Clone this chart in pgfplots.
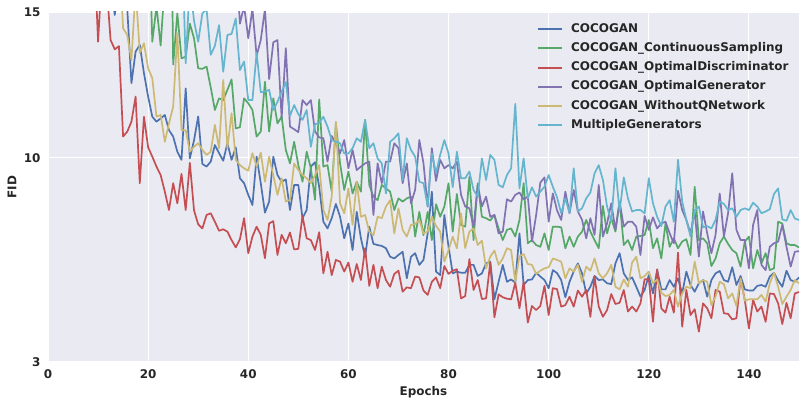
\documentclass[border=0pt]{standalone}
\usepackage{pgfplots}
\usepackage{pgfplotstable}
\pgfplotsset{compat=1.18}
\usepackage{fontspec}
\setmainfont{DejaVu Sans}
\definecolor{sbblue}{HTML}{4C72B0}
\definecolor{sbgreen}{HTML}{55A868}
\definecolor{sbred}{HTML}{C44E52}
\definecolor{sbpurple}{HTML}{8172B2}
\definecolor{sbyellow}{HTML}{CCB974}
\definecolor{sbcyan}{HTML}{64B5CD}
\definecolor{bg}{HTML}{EAEAF2}
\definecolor{txt}{HTML}{262626}

\pgfplotstableread{
k b g r p y c
0 30 30 30 30 30 30
1 30 30 30 30 30 30
2 30 30 30 30 30 30
3 30 30 30 30 30 30
4 30 30 30 30 30 30
5 30 30 30 30 30 30
6 30 30 30 30 30 30
7 30 30 30 30 30 30
8 30 30 30 30 30 30
9 30 30 30 30 30 30
10 30 30 30 30 30 30
11 30 30 17.4 30 30 30
12 30 30 13.98 30 30 30
13 30 30 16.5 30 30 30
14 17 30 16 30 30 30
15 16 30 14.04 30 30 30
16 14.9 30 13.72 30 30 30
17 16 30 13.83 30 17.2 30
18 16 30 10.73 30 14.44 30
19 15.1 30 10.90 30 14.21 30
20 12.56 30 11.24 30 13.35 30
21 13.64 30 12.10 30 15.8 30
22 13.87 30 9.13 30 13.60 30
23 12.90 30 11.41 30 13.93 30
24 12.10 19 10.36 30 13.07 30
25 11.41 13.98 10.04 30 12.73 30
26 11.24 15.2 9.70 30 11.41 30
27 11.35 13.85 9.41 30 11.47 30
28 11.47 16 8.84 30 10.55 30
29 10.95 25 8.21 30 11.18 30
30 10.73 13.2 9.13 30 11.75 30
31 10.21 14.95 8.44 30 14.27 20
32 9.93 13.41 9.45 30 10.95 18
33 12.38 13.47 8.21 30 10.95 13.24
34 9.98 14.6 9.83 30 10.21 16
35 10.6 14.1 8.2 30 10.38 14.7
36 11.42 13.07 7.72 30 10.50 13.98
37 9.79 13.05 7.58 30 10.27 14.95
38 9.70 13.13 8.04 30 10.10 15.1
39 9.87 12.42 8.10 30 10.21 13.53
40 10.44 11.64 7.81 30 11.13 13.84
41 10.16 12.04 7.50 30 10.33 14.55
42 9.90 11.98 7.55 30 12.67 12.95
43 10.50 12.33 7.47 30 10.33 14.21
44 9.93 12.69 7.18 20 11.53 14.25
45 10.36 11.01 6.93 17 9.93 14.78
46 9.30 11.05 7.21 14.6 9.75 13.01
47 9.13 12.04 7.93 15.2 9.64 13.3
48 8.73 11.87 6.73 14.1 9.56 11.98
49 8.38 11.64 7.30 15.1 10.16 11.98
50 10.04 10.73 7.64 13.5 9.70 13.6
51 9.13 10.90 7.36 14.04 10.18 12.25
52 8.12 12.61 6.56 15.1 9.18 12.27
53 8.50 10.90 7.75 12.7 10.04 12.33
54 10.04 12.04 7.83 13.96 9.41 11.64
55 9.41 11.18 6.67 14.04 8.73 11.92
56 9.18 11.41 7.36 11.36 9.30 12.27
57 9.26 10.27 7.07 13.76 8.50 12.6
58 8.21 9.81 7.44 11.07 8.56 11.44
59 9.07 10.55 6.86 10.98 9.81 11.81
60 9.07 9.75 6.88 10.88 9.58 11.5
61 7.93 9.18 8.01 11.98 9.41 11.30
62 8.21 10.21 7.24 11.81 9.30 11.64
63 9.70 9.64 7.18 11.98 9.13 10.38
64 9.85 8.56 6.84 10.9 9.40 11.15
65 9.0 12.0 7.45 10.7 9.75 11.2
66 7.81 9.70 6.04 10.67 8.21 11.41
67 7.58 9.75 6.78 9.87 7.87 11.07
68 7.93 8.84 5.98 10.75 8.67 10.61
69 8.42 11.18 6.50 10.50 11.24 10.55
70 7.98 9.81 6.44 10.15 8.44 10.50
71 7.24 8.90 6.10 10.61 8.10 10.15
72 7.75 9.53 6.41 9.64 8.95 10.15
73 6.84 8.78 5.75 10.27 7.70 10.33
74 8.15 9.18 6.36 9.58 9.18 10.67
75 7.24 8.84 5.81 9.70 7.98 10.55
76 6.61 11.30 6.90 9.81 8.04 11.30
77 7.64 9.07 5.61 9.87 7.47 10.33
78 7.05 8.67 6.33 8.04 7.35 10.50
79 7.01 8.55 5.53 9.81 7.98 9.98
80 6.98 9.07 6.27 9.13 7.93 9.81
81 6.90 8.95 5.81 9.87 8.33 8.78
82 6.61 8.84 5.58 9.87 8.55 10.55
83 6.55 8.21 6.02 10.50 7.41 10.67
84 6.67 8.61 6.13 10.33 8.27 10.84
85 6.78 8.50 5.41 9.13 7.53 9.24
86 5.87 8.61 5.56 9.81 7.30 10.67
87 6.61 8.67 5.53 8.44 7.70 10.27
88 6.73 7.30 5.93 8.90 7.73 10.04
89 6.33 8.15 5.90 10.61 7.87 9.18
90 6.50 7.35 5.45 9.81 7.41 9.13
91 7.41 8.15 5.30 8.33 7.47 8.33
92 8.84 7.18 5.75 10.33 7.98 10.15
93 6.10 8.41 5.90 9.21 7.67 9.47
94 5.98 7.98 5.53 9.93 7.47 10.10
95 8.04 8.33 6.29 9.64 6.44 10.61
96 6.95 9.13 6.02 9.75 6.84 10.15
97 6.04 7.47 6.13 9.64 7.30 8.99
98 6.10 8.76 6.18 9.87 6.90 10.21
99 6.06 7.70 5.18 8.73 8.10 9.30
100 6.06 7.64 5.26 8.33 6.90 9.30
101 6.33 9.35 6.53 8.27 7.47 9.53
102 6.33 7.18 5.47 7.64 7.58 8.90
103 5.95 9.13 5.81 9.07 7.01 8.67
104 6.04 7.98 5.16 8.33 7.16 9.98
105 6.38 7.93 5.18 8.67 6.21 9.24
106 6.44 7.85 6.41 7.98 6.61 10.10
107 5.15 8.04 4.53 8.04 6.82 9.93
108 5.75 7.58 5.32 7.41 6.33 9.07
109 6.33 7.18 5.22 7.47 6.55 8.99
110 5.75 7.53 5.17 8.58 6.90 9.41
111 5.83 7.58 5.15 8.50 6.84 9.64
112 5.72 7.30 5.72 8.73 5.75 11.85
113 7.41 7.87 4.84 8.81 6.63 8.95
114 5.64 9.13 5.75 8.58 6.70 9.98
115 5.81 7.07 4.35 8.67 6.36 8.61
116 5.83 7.18 4.92 7.13 6.33 8.99
117 6.06 7.01 4.78 8.04 6.02 8.67
118 5.93 6.95 4.92 9.15 6.13 8.84
119 5.81 7.41 5.61 9.33 6.21 9.01
120 5.53 6.84 4.61 7.81 6.25 9.41
121 6.15 7.64 5.53 8.78 6.55 9.01
122 6.05 7.64 5.5 8.2 6.5 8.65
123 5.81 7.62 4.90 7.87 6.44 8.10
124 5.22 6.90 4.95 8.84 5.87 8.61
125 5.75 7.30 5.24 8.10 6.21 8.10
126 6.10 6.95 4.90 8.90 6.10 9.64
127 6.38 7.30 5.45 8.16 6.33 8.16
128 6.04 7.47 5.24 7.87 5.75 8.27
129 5.35 7.87 5.47 7.24 6.27 8.61
130 5.58 7.47 4.55 7.93 6.13 8.81
131 5.95 7.18 5.93 7.36 6.55 9.47
132 5.81 6.90 4.90 9.07 6.04 9.75
133 5.83 8.35 4.55 7.30 5.87 9.24
134 5.70 7.41 4.78 7.75 6.04 8.33
135 5.67 7.93 5.33 8.44 6.33 7.81
136 6.38 7.47 4.99 7.53 5.58 9.64
137 6.73 8.50 5.03 8.50 5.49 8.16
138 6.04 7.01 5.47 7.64 5.83 9.33
139 5.81 7.18 4.73 7.81 5.58 8.61
140 5.90 6.84 4.90 7.81 6.41 8.16
141 5.58 7.30 4.73 7.64 6.61 8.21
142 5.24 7.32 5.01 6.67 5.87 8.21
143 5.47 7.36 5.84 8.01 5.95 8.10
144 5.98 7.87 5.84 7.53 6.10 9.30
145 5.35 6.90 4.38 7.96 5.70 8.44
146 6.16 7.24 6.18 7.58 5.83 7.98
147 5.49 6.55 4.84 7.75 5.38 7.66
148 5.49 7.75 4.69 7.81 5.26 8.33
149 5.81 6.95 5.24 7.41 5.30 8.55
150 5.58 7.24 4.69 7.07 5.47 7.81
151 5.87 6.90 6.75 8.87 4.90 9.93
152 5.35 7.13 4.21 8.21 5.35 8.50
153 6.10 7.21 5.47 7.87 5.58 7.87
154 5.64 6.67 4.61 7.41 5.53 7.30
155 5.41 9.01 4.81 8.16 6.44 8.21
156 5.70 7.18 4.04 6.61 5.70 8.33
157 5.81 7.24 5.01 8.16 5.81 7.62
158 5.24 7.07 4.84 7.41 5.75 7.66
159 5.81 6.29 4.50 6.73 4.95 7.58
160 6.04 6.55 5.47 7.36 5.24 7.87
161 6.12 7.07 5.41 8.78 5.75 8.50
162 5.81 7.30 4.67 7.30 5.67 8.42
163 5.75 7.05 4.65 8.10 5.18 8.21
164 6.25 6.84 4.46 9.47 5.35 8.27
165 5.64 6.73 4.50 7.53 4.92 7.98
166 5.95 6.27 5.87 7.18 5.87 8.21
167 5.49 7.13 5.13 7.18 5.10 8.27
168 5.45 7.30 4.15 6.21 5.15 8.21
169 5.45 6.21 5.13 7.70 5.15 8.46
170 5.61 6.84 4.73 8.21 5.15 8.33
171 5.64 6.38 4.90 6.33 5.30 8.10
172 5.58 6.73 4.38 6.15 5.07 8.16
173 5.93 6.15 5.35 6.95 5.70 8.24
174 6.06 6.21 5.33 7.07 6.06 8.76
175 5.79 7.81 5.01 7.13 5.58 8.95
176 5.58 7.75 4.30 7.70 4.99 7.89
177 6.13 7.07 5.03 6.95 5.24 7.84
178 5.81 7.01 4.50 6.27 5.47 8.21
179 5.75 7.01 5.35 6.78 5.81 7.92
180 5.9 6.93 5.4 6.8 5.7 7.87
}\fidtable

\begin{document}
\begin{tikzpicture}
\path[use as bounding box] (-48bp,-44bp) rectangle (758bp,362bp);
\begin{axis}[
  at={(0bp,0bp)}, anchor=south west,
  width=751bp, height=350bp, scale only axis,
  xmin=0, xmax=150, ymin=3, ymax=15,
  axis background/.style={fill=bg},
  axis line style={draw=none},
  grid=major, major grid style={white, line width=1.1bp},
  xtick={0,20,...,140}, ytick={3,10,15},
  major tick length=0pt, tick style={draw=none},
  /pgf/number format/assume math mode=true,
  tick label style={font=\bfseries\fontsize{12}{14}\selectfont, text=txt},
  xticklabel style={anchor=center, yshift=-12.3bp},
  yticklabel style={anchor=east, xshift=-4bp},
  xlabel={Epochs}, ylabel={FID},
  every axis x label/.style={at={(axis description cs:0.5,-0.0857)}, anchor=center,
    font=\bfseries\fontsize{12}{14}\selectfont, text=txt},
  every axis y label/.style={at={(axis description cs:-0.048,0.5)}, anchor=center, rotate=90,
    font=\bfseries\fontsize{12}{14}\selectfont, text=txt},
  legend style={at={(axis description cs:0.6511,0.979)}, anchor=north west,
    draw=none, fill=none, font=\bfseries\fontsize{12}{14}\selectfont, text=txt,
    row sep=0pt, inner sep=0pt,
    nodes={inner ysep=3.3bp, inner xsep=2bp, text height=9.5bp, text depth=3.1bp},
    /tikz/every odd column/.append style={column sep=6bp}},
  legend cell align=left,
  legend image code/.code={\draw[#1, line width=2bp] (0bp,0bp) -- (24bp,0bp);},
  every axis plot/.append style={line width=1.7bp, line join=round},
]
\addplot[sbblue] table[x expr=\thisrow{k}*5/6, y=b] {\fidtable};
\addlegendentry{COCOGAN}
\addplot[sbgreen] table[x expr=\thisrow{k}*5/6, y=g] {\fidtable};
\addlegendentry{COCOGAN\_ContinuousSampling}
\addplot[sbred] table[x expr=\thisrow{k}*5/6, y=r] {\fidtable};
\addlegendentry{COCOGAN\_OptimalDiscriminator}
\addplot[sbpurple] table[x expr=\thisrow{k}*5/6, y=p] {\fidtable};
\addlegendentry{COCOGAN\_OptimalGenerator}
\addplot[sbyellow] table[x expr=\thisrow{k}*5/6, y=y] {\fidtable};
\addlegendentry{COCOGAN\_WithoutQNetwork}
\addplot[sbcyan] table[x expr=\thisrow{k}*5/6, y=c] {\fidtable};
\addlegendentry{MultipleGenerators}
\end{axis}
\end{tikzpicture}
\end{document}
